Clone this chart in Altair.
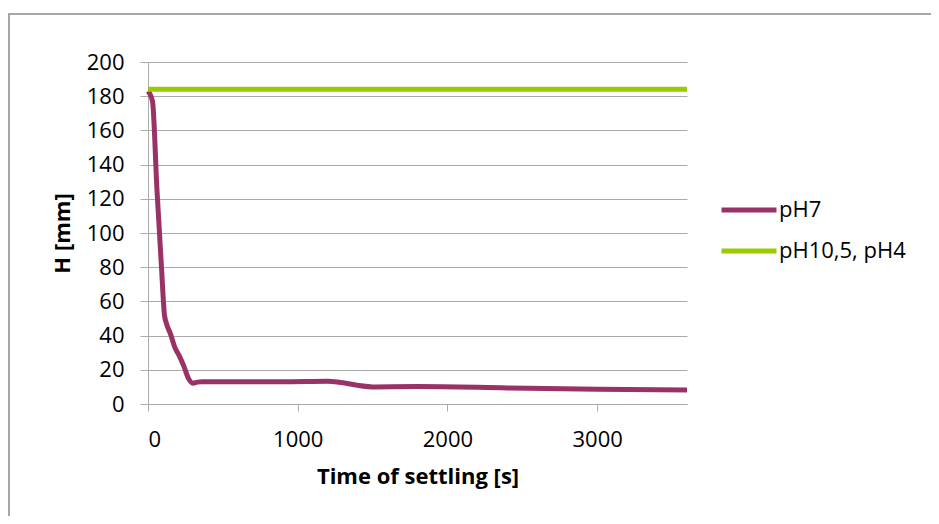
import altair as alt
import pandas as pd

# pH7 settling curve (time s, height mm)
t_ph7 = [0, 30, 60, 90, 110, 120, 150, 180, 210, 240, 270, 300, 330, 360, 600, 900, 1200, 1500, 1800, 2400, 3000, 3600]
h_ph7 = [183, 177, 125, 80, 52, 48, 41, 33, 28, 22, 15, 12.2, 12.8, 13, 13, 13, 13.3, 10, 10.2, 9.4, 8.6, 8.2]

# pH10,5 and pH4: no settling
t_other = [0, 3600]
h_other = [184, 184]

series_names = ["pH7", "pH10,5, pH4"]
series_colors = ["#993366", "#99CC00"]

x_ticks = [0, 1000, 2000, 3000]
y_ticks = [0, 20, 40, 60, 80, 100, 120, 140, 160, 180, 200]

rows = [{"t": t, "H": h, "series": series_names[0], "ord": i} for i, (t, h) in enumerate(zip(t_ph7, h_ph7))]
rows += [{"t": t, "H": h, "series": series_names[1], "ord": i} for i, (t, h) in enumerate(zip(t_other, h_other))]
df = pd.DataFrame(rows)

FONT = "Open Sans"
GRID = "#ababab"

lines = alt.Chart(df).mark_line(strokeWidth=5, interpolate="monotone", strokeCap="butt").encode(
    x=alt.X("t:Q",
            scale=alt.Scale(domain=[0, 3600], nice=False, zero=True),
            axis=alt.Axis(values=x_ticks, title="Time of settling [s]", grid=False,
                          tickSize=7, labelPadding=18, titlePadding=16,
                          domainColor=GRID, tickColor=GRID, format="d")),
    y=alt.Y("H:Q",
            scale=alt.Scale(domain=[0, 200], nice=False),
            axis=alt.Axis(values=y_ticks, title="H [mm]", grid=True, gridColor=GRID,
                          tickSize=8, labelPadding=16, titlePadding=12,
                          domainColor=GRID, tickColor=GRID)),
    color=alt.Color("series:N",
                    scale=alt.Scale(domain=series_names, range=series_colors),
                    legend=alt.Legend(title=None, orient="none", legendX=571, legendY=118,
                                      symbolType="stroke", symbolSize=3025, symbolStrokeWidth=5,
                                      labelFontSize=22, labelFont=FONT, labelOffset=0,
                                      rowPadding=0, padding=0, labelColor="#000000")),
    order="ord:Q",
)

frame = pd.DataFrame({"k": [0]})
top_border = alt.Chart(frame).mark_rule(color="#a6a6a6", strokeWidth=2).encode(
    x=alt.value(-140), x2=alt.value(783), y=alt.value(-48))
left_border = alt.Chart(frame).mark_rule(color="#a6a6a6", strokeWidth=2).encode(
    x=alt.value(-139), y=alt.value(-48), y2=alt.value(454))

chart = alt.layer(top_border, left_border, lines).properties(
    width=539, height=342,
    padding={"left": 140, "top": 54, "right": 244, "bottom": 112},
    autosize=alt.AutoSizeParams(type="none"),
    background="white",
).configure_view(stroke=None).configure_axis(
    labelFont=FONT, labelFontSize=22, labelColor="#000000",
    titleFont=FONT, titleFontSize=22, titleFontWeight="bold", titleColor="#000000",
)

chart.save("out.html", embed_options={"renderer": "svg", "actions": False})
